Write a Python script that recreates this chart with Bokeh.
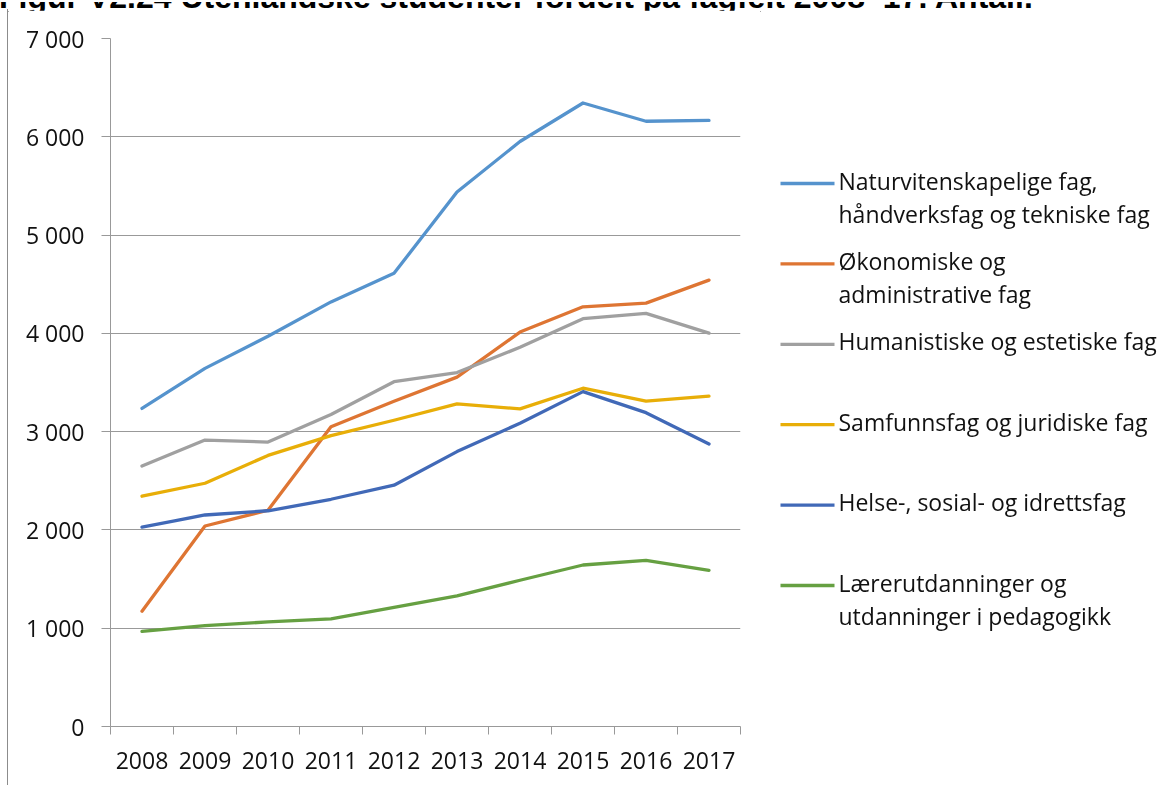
from bokeh.plotting import figure
from bokeh.models import FixedTicker, Range1d, Div
from bokeh.layouts import column, row
from bokeh.core.properties import value
from bokeh.embed import file_html
from bokeh.resources import INLINE

# ---------------- data ----------------
years = ["2008", "2009", "2010", "2011", "2012", "2013", "2014", "2015", "2016", "2017"]

naturvit = [3236, 3644, 3970, 4320, 4611, 5439, 5952, 6344, 6158, 6166]
okonomi = [1173, 2040, 2200, 3050, 3310, 3555, 4013, 4270, 4308, 4542]
humanist = [2650, 2914, 2894, 3174, 3508, 3601, 3858, 4149, 4204, 4002]
samfunn = [2343, 2475, 2758, 2960, 3116, 3283, 3232, 3442, 3310, 3361]
helse = [2028, 2152, 2195, 2312, 2455, 2797, 3085, 3407, 3193, 2875]
laerer = [967, 1026, 1064, 1096, 1212, 1329, 1488, 1643, 1690, 1589]

series_labels = [
    "Naturvitenskapelige fag,\nhåndverksfag og tekniske fag",
    "Økonomiske og\nadministrative fag",
    "Humanistiske og estetiske fag",
    "Samfunnsfag og juridiske fag",
    "Helse-, sosial- og idrettsfag",
    "Lærerutdanninger og\nutdanninger i pedagogikk",
]
series_values = [naturvit, okonomi, humanist, samfunn, helse, laerer]
series_colors = ["#5593CD", "#DE7533", "#A0A0A0", "#E8AE08", "#4169B7", "#66A042"]

y_ticks = [0, 1000, 2000, 3000, 4000, 5000, 6000, 7000]
y_tick_labels = ["0", "1 000", "2 000", "3 000", "4 000", "5 000", "6 000", "7 000"]

title_text = "Figur V2.24 Utenlandske studenter fordelt på fagfelt 2008–17. Antall."

# ---------------- style ----------------
FONT = "Open Sans"
FS = "23px"
GRID = "#999999"
BORDER = "#8c8c8c"
TXT = "#111111"
LW = 3.3

# ---------------- title strip (chart box covers its lower part, as in the reference) ----------------
title_html = (
    '<div style="position:relative;width:1174px;height:10px;overflow:hidden;background:white;">'
    '<div style="position:absolute;left:0;top:0;width:1174px;height:9px;overflow:hidden;">'
    '<div style="position:absolute;left:-1px;top:-21px;white-space:nowrap;'
    "font-family:'Liberation Sans',Arial,sans-serif;font-weight:bold;font-size:32px;"
    'line-height:32px;color:#000;">' + title_text + '</div></div>'
    f'<div style="position:absolute;left:7px;top:9px;width:1167px;height:1px;background:{BORDER};"></div>'
    '</div>'
    f'<div style="position:fixed;left:7px;top:9px;width:1px;height:776px;background:{BORDER};"></div>'
)
tdiv = Div(text=title_html, width=1174, height=10, margin=0)

# ---------------- left border strip ----------------
strip_html = (
    '<div style="position:relative;width:8px;height:775px;overflow:hidden;">'
    f'<div style="position:absolute;left:7px;top:0;width:1px;height:775px;background:{BORDER};"></div>'
    '</div>'
)
sdiv = Div(text=strip_html, width=8, height=775, margin=0)

# ---------------- chart ----------------
p = figure(width=752, height=775,
           x_range=Range1d(0, len(years)), y_range=Range1d(0, 7000),
           output_backend="svg", toolbar_location=None,
           min_border_left=102, min_border_right=20,
           min_border_top=28, min_border_bottom=59)
p.outline_line_color = None
p.background_fill_color = "white"
p.border_fill_color = "white"

xs = [i + 0.5 for i in range(len(years))]
for vals, col in zip(series_values, series_colors):
    p.line(xs, vals, line_color=col, line_width=LW, line_join="round", line_cap="round")

p.xaxis.ticker = FixedTicker(ticks=xs, minor_ticks=list(range(len(years) + 1)))
p.xaxis.major_label_overrides = {x: y for x, y in zip(xs, years)}
p.xaxis.major_tick_line_color = None
p.xaxis.major_tick_out = 8
p.xaxis.major_tick_in = 0
p.xaxis.minor_tick_line_color = GRID
p.xaxis.minor_tick_out = 8
p.xaxis.minor_tick_in = 0
p.xaxis.major_label_standoff = 17
p.xaxis.axis_line_color = GRID
p.xaxis.major_label_text_font = FONT
p.xaxis.major_label_text_font_size = FS
p.xaxis.major_label_text_color = TXT

p.yaxis.ticker = FixedTicker(ticks=y_ticks, minor_ticks=[])
p.yaxis.major_label_overrides = {t: l for t, l in zip(y_ticks, y_tick_labels)}
p.yaxis.major_tick_line_color = GRID
p.yaxis.major_tick_out = 9
p.yaxis.major_tick_in = 0
p.yaxis.major_label_standoff = 17
p.yaxis.axis_line_color = GRID
p.yaxis.major_label_text_font = FONT
p.yaxis.major_label_text_font_size = FS
p.yaxis.major_label_text_color = TXT

p.xgrid.grid_line_color = None
p.ygrid.grid_line_color = GRID
p.ygrid.grid_line_width = 1

# ---------------- legend panel (frame aligned with the chart frame: window y 38..726) ----------------
lfig = figure(width=414, height=775, x_range=Range1d(760, 1174), y_range=Range1d(726, 38),
              output_backend="svg", toolbar_location=None,
              x_axis_location=None, y_axis_location=None,
              min_border_left=0, min_border_right=0, min_border_top=28, min_border_bottom=59)
lfig.grid.visible = False
lfig.outline_line_color = None
lfig.background_fill_color = "white"
lfig.border_fill_color = "white"
for i, (lab, col) in enumerate(zip(series_labels, series_colors)):
    c = 183 + 80.4 * i
    lfig.segment(x0=[780], y0=[c], x1=[834], y1=[c], line_color=col, line_width=LW)
    lines = lab.split("\n")
    lfig.text(x=[838] * len(lines), y=[c - 3 + 33 * j for j in range(len(lines))], text=lines,
              text_font=value(FONT), text_font_size=FS, text_baseline="middle",
              text_color=TXT)

layout = column(tdiv, row(sdiv, p, lfig, spacing=0), spacing=0)
open("out.html", "w").write(file_html(layout, INLINE))
